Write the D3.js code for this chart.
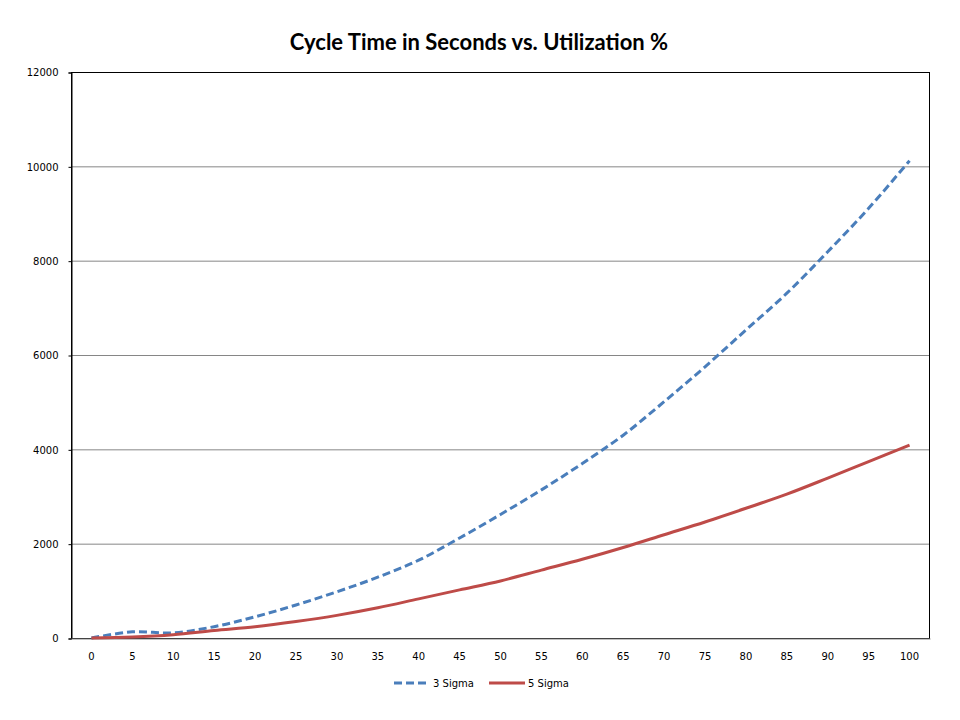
<!DOCTYPE html>
<html>
<head>
<meta charset="utf-8">
<script src="https://cdn.jsdelivr.net/npm/d3@7"></script>
<style>
  body { margin: 0; background: #fff; }
</style>
</head>
<body>
<div id="chart"></div>
<script>
// utilization % categories
var utilization = ["0", "5", "10", "15", "20", "25", "30", "35", "40", "45", "50",
    "55", "60", "65", "70", "75", "80", "85", "90", "95", "100"];

// cycle time in seconds
var sigma3 = [0, 130, 110, 240, 450, 700, 980, 1290, 1650, 2120, 2620,
    3140, 3700, 4300, 5010, 5750, 6530, 7310, 8190, 9110, 10120];
var sigma5 = [0, 20, 70, 160, 240, 350, 480, 640, 830, 1020, 1210,
    1440, 1670, 1920, 2190, 2460, 2750, 3050, 3390, 3740, 4090];

var yTicks = [0, 2000, 4000, 6000, 8000, 10000, 12000];

var series = [
    { name: "3 Sigma", values: sigma3, color: "#4A7EBB", dash: "8,4" },
    { name: "5 Sigma", values: sigma5, color: "#BE4B48", dash: null }
];

var width = 960, height = 720;
var plotLeft = 71, plotRight = 930, plotTop = 72, plotBottom = 638;

var svg = d3.select("#chart").append("svg")
    .attr("width", width)
    .attr("height", height);

svg.append("rect")
    .attr("width", width)
    .attr("height", height)
    .attr("fill", "#fff");

var x = d3.scaleBand()
    .domain(utilization)
    .range([plotLeft, plotRight])
    .padding(0);

var y = d3.scaleLinear()
    .domain([0, 12000])
    .range([plotBottom, plotTop]);

// gridlines
svg.append("g")
    .selectAll("line")
    .data(yTicks.slice(1, -1))
    .enter()
    .append("line")
    .attr("x1", plotLeft)
    .attr("x2", plotRight)
    .attr("y1", d => y(d) + 0.5)
    .attr("y2", d => y(d) + 0.5)
    .attr("stroke", "#868686")
    .attr("stroke-width", 1);

// plot area border
svg.append("rect")
    .attr("x", plotLeft + 0.5)
    .attr("y", plotTop + 0.5)
    .attr("width", plotRight - plotLeft - 1)
    .attr("height", plotBottom - plotTop)
    .attr("fill", "none")
    .attr("stroke", "#000")
    .attr("stroke-width", 1);

// y axis
var yAxis = svg.append("g")
    .attr("transform", "translate(" + (plotLeft + 0.5) + ",0.5)")
    .call(d3.axisLeft(y).tickValues(yTicks).tickFormat(d3.format("d"))
        .tickSize(3).tickPadding(10));
yAxis.select(".domain").attr("stroke", "#000");
yAxis.selectAll(".tick line").attr("stroke", "#000");
yAxis.selectAll("text")
    .attr("font-family", "DejaVu Sans, Verdana, sans-serif")
    .attr("font-size", 10)
    .attr("fill", "#000");

// x axis
var xAxis = svg.append("g")
    .attr("transform", "translate(0," + (plotBottom + 0.5) + ")")
    .call(d3.axisBottom(x).tickSize(0).tickPadding(14).tickSizeOuter(0));
xAxis.select(".domain").attr("stroke", "#868686");
xAxis.selectAll("text")
    .attr("font-family", "DejaVu Sans, Verdana, sans-serif")
    .attr("font-size", 10)
    .attr("fill", "#000");

// lines
var line = d3.line()
    .x((d, i) => x(utilization[i]) + x.bandwidth() / 2)
    .y(d => y(d))
    .curve(d3.curveCatmullRom.alpha(0));

series.forEach(s => {
    svg.append("path")
        .datum(s.values)
        .attr("d", line)
        .attr("fill", "none")
        .attr("stroke", s.color)
        .attr("stroke-width", 3)
        .attr("stroke-dasharray", s.dash);
});

// title
svg.append("text")
    .attr("x", 479)
    .attr("y", 50)
    .attr("text-anchor", "middle")
    .attr("font-family", "Lato, Carlito, sans-serif")
    .attr("font-weight", "bold")
    .attr("font-size", 22)
    .attr("fill", "#000")
    .text("Cycle Time in Seconds vs. Utilization %");

// legend
var legendX = [394, 489];
var legend = svg.append("g");
series.forEach((s, i) => {
    var g = legend.append("g")
        .attr("transform", "translate(" + legendX[i] + ",685)");
    g.append("line")
        .attr("x1", 0)
        .attr("x2", i === 0 ? 32 : 36)
        .attr("y1", -2)
        .attr("y2", -2)
        .attr("stroke", s.color)
        .attr("stroke-width", 3)
        .attr("stroke-dasharray", s.dash);
    g.append("text")
        .attr("x", 39)
        .attr("y", 2)
        .attr("font-family", "DejaVu Sans, Verdana, sans-serif")
        .attr("font-size", 10)
        .attr("fill", "#000")
        .text(s.name);
});
</script>
</body>
</html>
